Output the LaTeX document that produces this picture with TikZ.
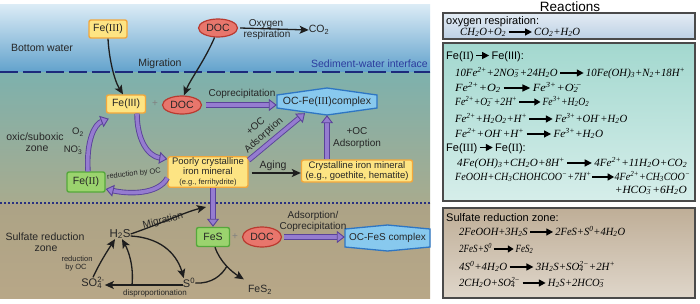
\documentclass[tikz,border=0pt]{standalone}
\usepackage{graphicx}
\usepackage{fontspec}
\setmainfont{Liberation Sans}
\newfontfamily\serf{Liberation Serif}
\usetikzlibrary{arrows.meta,shapes.geometric}
\definecolor{txt}{HTML}{262626}
\definecolor{yfill}{HTML}{FDE483}
\definecolor{yborder}{HTML}{F2A73B}
\definecolor{gfill}{HTML}{9BD36E}
\definecolor{gborder}{HTML}{55A83B}
\definecolor{dfill}{HTML}{E8766C}
\definecolor{dborder}{HTML}{B93A30}
\definecolor{hfill}{HTML}{88C9EE}
\definecolor{hborder}{HTML}{2E76C3}
\definecolor{pfill}{HTML}{957CD0}
\definecolor{pdark}{HTML}{5A4399}
\definecolor{bk}{HTML}{1E1E1E}
\definecolor{navy}{HTML}{1C2A7C}
\definecolor{navydot}{HTML}{2A3180}
\definecolor{ifblue}{HTML}{2C3C9E}
\definecolor{wtop}{HTML}{DCECF6}
\definecolor{wbot}{HTML}{62A2CC}
\definecolor{stop}{HTML}{7DB1AD}
\definecolor{sbot}{HTML}{A8AB8E}
\definecolor{ftop}{HTML}{ACA386}
\definecolor{fbot}{HTML}{B8A787}
\definecolor{rbord}{HTML}{4A4A4A}
\definecolor{b1top}{HTML}{E4ECF4}
\definecolor{b1bot}{HTML}{BCD0E4}
\definecolor{b2top}{HTML}{A3D8CF}
\definecolor{b2bot}{HTML}{D6EEEA}
\definecolor{b3top}{HTML}{BFAE97}
\definecolor{b3bot}{HTML}{DFD6CA}
\newcommand{\eqarr}[1][24pt]{\tikz[baseline=-0.6ex]\draw[black,line width=1.2pt,-{Triangle[length=7pt,width=7pt]}](0pt,0pt)--(#1,0pt);}
\newcommand{\sbt}[1]{\textsubscript{#1}}
\newcommand{\spt}[1]{\textsuperscript{#1}}
\newcommand{\sbsp}[2]{\begingroup\sbox0{\textsubscript{#1}}\sbox2{\textsuperscript{#2}}\ifdim\wd0>\wd2\rlap{\usebox2}\usebox0\else\rlap{\usebox0}\usebox2\fi\endgroup}
\newcommand{\fitw}[2]{\resizebox{#1}{\height}{#2}}
\begin{document}
\begin{tikzpicture}[x=1pt,y=-1pt,
  every node/.style={text=txt},
  lbl/.style={font=\fontsize{10}{12}\selectfont, inner sep=0pt},
  ybox/.style={draw=yborder, fill=yfill, line width=1.4pt, rounded corners=2pt, align=center, inner sep=1pt},
  gbox/.style={draw=gborder, fill=gfill, line width=1.4pt, rounded corners=2pt, inner sep=1pt, font=\fontsize{10.5}{12}\selectfont},
  docell/.style={ellipse, draw=dborder, fill=dfill, line width=1.2pt, minimum width=39pt, minimum height=18pt, inner sep=0pt, font=\fontsize{10.5}{12}\selectfont},
  hexsty/.style={draw=hborder, fill=hfill, line width=1.3pt},
  parrow/.style={draw=pdark, line width=0.9pt, double=pfill, double distance=3.6pt, -{Triangle[length=8pt,width=12pt,fill=pfill]}},
  barrow/.style={draw=bk, line width=1.3pt, -{Stealth[length=9pt,width=8pt,inset=2pt]}},
  eqn/.style={anchor=base west, inner sep=0pt, text=black, font=\fontsize{11}{13}\selectfont\serf\itshape},
  hdn/.style={anchor=base west, inner sep=0pt, text=black, font=\fontsize{11}{13}\selectfont},
  rbox/.style={draw=rbord, line width=1.5pt}
]
\useasboundingbox (0,0) rectangle (700,303);
\fill[white] (0,0) rectangle (700,303);
% ---------- left panel backgrounds
\shade[top color=wtop, bottom color=wbot] (0,4) rectangle (430,72);
\shade[top color=stop, bottom color=sbot] (0,72) rectangle (430,203);
\shade[top color=ftop, bottom color=fbot] (0,203) rectangle (430,298);
\draw[navy, line width=2.2pt, dash pattern=on 18pt off 5pt] (0,72) -- (430,72);
\draw[navydot, line width=2pt, dash pattern=on 2pt off 2pt] (0,203) -- (430,203);
% ---------- labels
\node[lbl, font=\fontsize{10.5}{12}\selectfont] (bw) at (42,48) {Bottom water};
\node[lbl, font=\fontsize{10.5}{12}\selectfont] (mig1) at (160,64) {Migration};
\node[lbl, font=\fontsize{10.5}{12}\selectfont, text=ifblue, anchor=east] (swi) at (428,64) {Sediment-water interface};
\node[lbl, font=\fontsize{10.5}{12}\selectfont] (oxz1) at (35,137) {oxic/suboxic};
\node[lbl, font=\fontsize{10.5}{12}\selectfont] (oxz2) at (37,149) {zone};
\node[lbl, font=\fontsize{10.5}{12}\selectfont] (srz1) at (45,237) {Sulfate reduction};
\node[lbl, font=\fontsize{10.5}{12}\selectfont] (srz2) at (46,249) {zone};
% ---------- top row
\node[ybox, minimum width=38pt, minimum height=18pt, font=\fontsize{10.5}{12}\selectfont] (fe3a) at (108,29) {Fe({\serf III})};
\node[docell] (doca) at (218,28) {DOC};
\node[lbl] (oxy) at (266,24) {Oxygen};
\node[lbl] (resp) at (267,35) {respiration};
\node[lbl, font=\fontsize{10.5}{12}\selectfont] (co2) at (319,30) {CO\textsubscript{2}};
\draw[barrow] ([xshift=2pt]doca.east) -- (co2.west);
% ---------- oxic zone
\node[ybox, minimum width=39pt, minimum height=18pt, font=\fontsize{10.5}{12}\selectfont] (fe3b) at (126,104) {Fe(III)};
\node[lbl, text=gray] (plus1) at (155,104) {+};
\node[docell] (docb) at (182,105) {DOC};
\draw[hexsty] (277,95) -- (327,88) -- (377,95) -- (377,108) -- (327,115) -- (277,108) -- cycle;
\node[lbl, font=\fontsize{10.5}{12}\selectfont, minimum width=100pt, minimum height=13pt] (ocfe) at (327,101.5) {OC-Fe({\serf III})complex};
\node[lbl] (copr) at (242,94) {Coprecipitation};
\node[ybox, minimum width=80pt, minimum height=30pt, font=\fontsize{9.5}{10}\selectfont] (poor) at (208,172) {Poorly crystalline\\iron mineral\\{\fontsize{7.5}{9}\selectfont (e.g., ferrihydrite)}};
\node[ybox, minimum width=111pt, minimum height=22pt, font=\fontsize{9.5}{10.5}\selectfont] (cryst) at (357,171) {Crystalline iron mineral\\(e.g., goethite, hematite)};
\node[gbox, minimum width=38pt, minimum height=20pt] (fe2) at (86,182) {Fe({\serf II})};
\node[lbl, align=center, rotate=42] (ads1) at (260,131) {+OC\\Adsorption};
\node[lbl, align=center] (ads2) at (357,138) {+OC\\Adsorption};
\node[lbl, font=\fontsize{10.5}{12}\selectfont] (aging) at (273,166) {Aging};
\node[lbl, font=\fontsize{9.5}{11}\selectfont] (o2) at (78,132) {O\textsubscript{2}};
\node[lbl, font=\fontsize{9.5}{11}\selectfont] (no3) at (73,150) {NO\sbsp{3}{-}};
\node[lbl, font=\fontsize{7.5}{9}\selectfont, rotate=7] (redoc) at (134,174) {reduction by OC};
% arrows oxic zone
\draw[barrow] (fe3a.south) .. controls (109,58) and (114,80) .. ([xshift=-3pt]fe3b.north);
\draw[barrow] (doca.-110) .. controls (205,60) and (190,80) .. ([xshift=2pt]docb.north);
\draw[parrow, shorten <=4pt] (docb.east) -- (docb.east -| ocfe.west);
\draw[parrow] ([yshift=-4pt]poor.north east) -- ([xshift=-22pt,yshift=-5pt]ocfe.south);
\draw[parrow] (ocfe.south |- cryst.north) -- ([yshift=-7pt]ocfe.south);
\draw[barrow, shorten <=3pt] ([yshift=-1pt]poor.east) -- ([yshift=-1pt]poor.east -| cryst.west);
\draw[parrow] ([xshift=11pt]fe3b.south) .. controls (137,140) and (148,156) .. ([yshift=-3pt]poor.north west);
\draw[parrow] ([yshift=-6pt]poor.west) .. controls (158,195) and (128,194) .. ([yshift=-7pt]fe2.east);
\draw[parrow] ([xshift=2pt]fe2.north) .. controls (86,140) and (95,124) .. ([xshift=3pt,yshift=-5pt]fe3b.south west);
% ---------- sulfate zone
\node[lbl, font=\fontsize{11.5}{13}\selectfont] (h2s) at (120,234) {H\textsubscript{2}S};
\node[gbox, minimum width=33pt, minimum height=19pt] (fes) at (213,237) {FeS};
\draw[parrow] (poor.south -| fes.north) -- (fes.north);
\node[lbl, text=gray] (plus2) at (235,237) {+};
\node[docell, minimum height=20pt] (docc) at (262,237) {DOC};
\draw[hexsty] (345,229) -- (387.5,225) -- (430,229) -- (430,247) -- (387.5,251) -- (345,247) -- cycle;
\node[lbl, font=\fontsize{10}{12}\selectfont, minimum width=85pt, minimum height=18pt] (ocfes) at (387.5,238) {OC-FeS complex};
\node[lbl] (adsl) at (313,216) {Adsorption/};
\node[lbl] (copl) at (313,227) {Coprecipitation};
\draw[parrow, shorten <=2pt] (docc.east) -- (docc.east -| ocfes.west);
\node[lbl, font=\fontsize{11}{13}\selectfont] (s0) at (189,283) {S\textsuperscript{0}};
\node[lbl, font=\fontsize{11}{13}\selectfont] (so4) at (93,283) {SO\sbsp{4}{2-}};
\node[lbl, font=\fontsize{10.5}{12}\selectfont] (fes2) at (260,290) {FeS\textsubscript{2}};
\node[lbl, font=\fontsize{10}{12}\selectfont, rotate=14] (mig2) at (163,221) {Migration};
\node[lbl, font=\fontsize{8}{9}\selectfont] (disp) at (155,293) {disproportionation};
\node[lbl, font=\fontsize{7.5}{9}\selectfont] (red1) at (77,259) {reduction};
\node[lbl, font=\fontsize{7.5}{9}\selectfont] (red2) at (76,268) {by OC};
\coordinate (migend) at (206,207);
\coordinate (dispt) at (132,285);
\coordinate (junc) at (227,266);
\draw[barrow] (h2s.east) .. controls (160,224) and (185,212) .. (migend);
\draw[barrow] ([yshift=-2pt]h2s.east) .. controls (165,238) and (178,258) .. ([xshift=1pt]s0.north west);
\draw[barrow] ([yshift=-2pt]s0.west) -- ([yshift=-2pt]s0.west -| so4.east);
\draw[barrow] (dispt) .. controls (134,265) and (128,250) .. ([xshift=2pt]h2s.south);
\draw[barrow] (so4.north) .. controls (100,262) and (108,250) .. ([xshift=-5pt]h2s.south);
\draw[barrow] ([xshift=2pt]fes.south) .. controls (220,262) and (232,272) .. ([xshift=-4pt,yshift=6pt]fes2.north west);
\draw[bk, line width=1.3pt] (s0.east) .. controls (212,284) and (222,275) .. (junc);
% ---------- right panel
\shade[rbox, top color=b1top, bottom color=b1bot] (443,13) rectangle (695,39);
\shade[rbox, top color=b2top, bottom color=b2bot] (443,43) rectangle (695,201);
\shade[rbox, top color=b3top, bottom color=b3bot] (443,208) rectangle (695,298);
\node[font=\fontsize{13.5}{15}\selectfont, text=black, inner sep=0pt] (rtitle) at (570,7) {Reactions};
\node[hdn] (h1) at (446,24) {oxygen respiration:};
\node[eqn] (q0) at (460,35) {\fitw{120pt}{CH\sbt{2}O+O\sbt{2}\,\eqarr\,CO\sbt{2}+H\sbt{2}O}};
\node[hdn] (h2) at (446,59) {Fe({\serf II})\,\eqarr[13pt]\,Fe(III):};
\node[eqn] (q1) at (455,76) {\fitw{230pt}{10Fe\spt{2+}+2NO\sbsp{3}{−}+24H\sbt{2}O\,\eqarr\,10Fe(OH)\sbt{3}+N\sbt{2}+18H\spt{+}}};
\node[eqn] (q2) at (455,91) {\fitw{127pt}{Fe\spt{2+}+O\sbt{2}\,\eqarr\,Fe\spt{3+}+O\sbsp{2}{·−}}};
\node[eqn] (q3) at (455,105) {\fitw{134pt}{Fe\spt{2+}+O\sbsp{2}{·−}+2H\spt{+}\,\eqarr\,Fe\spt{3+}+H\sbt{2}O\sbt{2}}};
\node[eqn] (q4) at (455,122) {\fitw{172pt}{Fe\spt{2+}+H\sbt{2}O\sbt{2}+H\spt{+}\,\eqarr\,Fe\spt{3+}+OH\spt{·}+H\sbt{2}O}};
\node[eqn] (q5) at (455,137) {\fitw{148pt}{Fe\spt{2+}+OH\spt{·}+H\spt{+}\,\eqarr\,Fe\spt{3+}+H\sbt{2}O}};
\node[hdn] (h3) at (446,151) {Fe({\serf III})\,\eqarr[13pt]\,Fe({\serf II}):};
\node[eqn] (q6) at (457,166) {\fitw{230pt}{4Fe(OH)\sbt{3}+CH\sbt{2}O+8H\spt{+}\,\eqarr\,4Fe\spt{2+}+11H\sbt{2}O+CO\sbt{2}}};
\node[eqn] (q7) at (455,180) {\fitw{235pt}{FeOOH+CH\sbt{3}CHOHCOO\spt{−}+7H\spt{+}\eqarr4Fe\spt{2+}+CH\sbt{3}COO\spt{−}}};
\node[eqn, anchor=base east] (q7b) at (687,193) {\fitw{72pt}{+HCO\sbsp{3}{−}+6H\sbt{2}O}};
\node[hdn] (h4) at (446,221) {Sulfate reduction zone:};
\node[eqn] (r1) at (459,235) {\fitw{166pt}{2FeOOH+3H\sbt{2}S\,\eqarr\,2FeS+S\spt{0}+4H\sbt{2}O}};
\node[eqn] (r2) at (459,252) {\fitw{74pt}{2FeS+S\spt{0}\,\eqarr\,FeS\sbt{2}}};
\node[eqn] (r3) at (459,270) {\fitw{156pt}{4S\spt{0}+4H\sbt{2}O\,\eqarr\,3H\sbt{2}S+SO\sbsp{4}{2−}+2H\spt{+}}};
\node[eqn] (r4) at (459,286) {\fitw{146pt}{2CH\sbt{2}O+SO\sbsp{4}{2−}\,\eqarr\,H\sbt{2}S+2HCO\sbsp{3}{−}}};
\end{tikzpicture}
\end{document}
